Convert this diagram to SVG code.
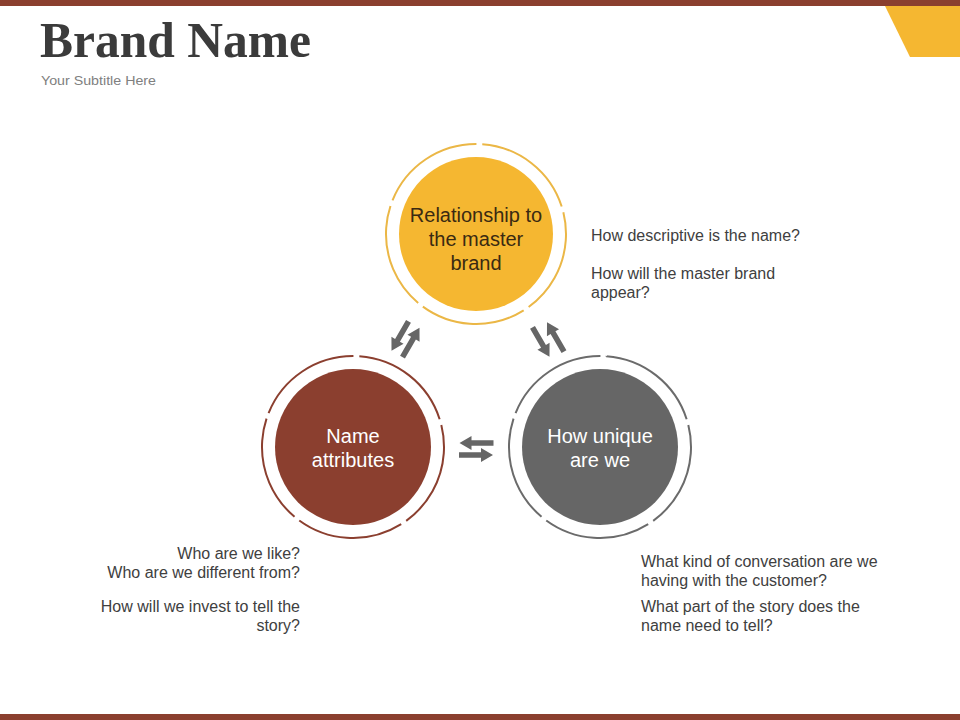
<svg xmlns="http://www.w3.org/2000/svg" width="960" height="720" viewBox="0 0 960 720">
<style>
.side{font-family:"Liberation Sans",Arial,sans-serif;font-size:16px;fill:#404040}
.node{font-family:"Liberation Sans",Arial,sans-serif;font-size:20px;text-anchor:middle}
.ring{fill:none;stroke-width:2;stroke-dasharray:68.2 3.8}
.arr{fill:#666666}
</style>
<defs>
<polygon id="arrow" points="-17,-2.8 5,-2.8 5,-7 17,0 5,7 5,2.8 -17,2.8"/>
</defs>
<rect x="0" y="0" width="960" height="6" fill="#8B3F2F"/>
<rect x="0" y="714" width="960" height="6" fill="#8B3F2F"/>
<polygon points="885,6 960,6 960,57 910,57" fill="#F5B731"/>
<text x="40" y="57" font-family="Liberation Serif,Times New Roman,serif" font-weight="bold" font-size="50" fill="#3b3b3b" textLength="271" lengthAdjust="spacingAndGlyphs">Brand Name</text>
<text x="41" y="85" font-family="Liberation Sans,Arial,sans-serif" font-size="13" fill="#808080" textLength="115" lengthAdjust="spacingAndGlyphs">Your Subtitle Here</text>

<g id="node-master">
<circle cx="476" cy="234" r="90" pathLength="360" transform="rotate(-86 476 234)" class="ring" stroke="#EBB746"/>
<circle cx="476" cy="234" r="77" fill="#F5B731"/>
<text class="node" fill="#3a2a12"><tspan x="476" y="222">Relationship to</tspan><tspan x="476" y="246">the master</tspan><tspan x="476" y="270">brand</tspan></text>
</g>
<g id="node-attributes">
<circle cx="353" cy="447" r="91" pathLength="360" transform="rotate(-86 353 447)" class="ring" stroke="#8B3F2F"/>
<circle cx="353" cy="447" r="78" fill="#8B3F2F"/>
<text class="node" fill="#ffffff"><tspan x="353" y="443">Name</tspan><tspan x="353" y="467">attributes</tspan></text>
</g>
<g id="node-unique">
<circle cx="600" cy="447" r="91" pathLength="360" transform="rotate(-86 600 447)" class="ring" stroke="#6b6b6b"/>
<circle cx="600" cy="447" r="78" fill="#666666"/>
<text class="node" fill="#ffffff"><tspan x="600" y="443">How unique</tspan><tspan x="600" y="467">are we</tspan></text>
</g>

<g id="connectors" class="arr">
<use href="#arrow" transform="translate(400,336) rotate(120)"/>
<use href="#arrow" transform="translate(411,342.5) rotate(-60)"/>
<use href="#arrow" transform="translate(541,342) rotate(60)"/>
<use href="#arrow" transform="translate(555.5,337) rotate(-120)"/>
<use href="#arrow" transform="translate(476.5,443) rotate(180)"/>
<use href="#arrow" transform="translate(476,455)"/>
</g>

<g id="notes">
<text class="side" x="591" y="241">How descriptive is the name?</text>
<text class="side" x="591" y="279">How will the master brand</text>
<text class="side" x="591" y="298">appear?</text>
<text class="side" x="300" y="559" text-anchor="end">Who are we like?</text>
<text class="side" x="300" y="578" text-anchor="end">Who are we different from?</text>
<text class="side" x="300" y="612" text-anchor="end">How will we invest to tell the</text>
<text class="side" x="300" y="631" text-anchor="end">story?</text>
<text class="side" x="641" y="567">What kind of conversation are we</text>
<text class="side" x="641" y="586">having with the customer?</text>
<text class="side" x="641" y="612">What part of the story does the</text>
<text class="side" x="641" y="631">name need to tell?</text>
</g>
</svg>
